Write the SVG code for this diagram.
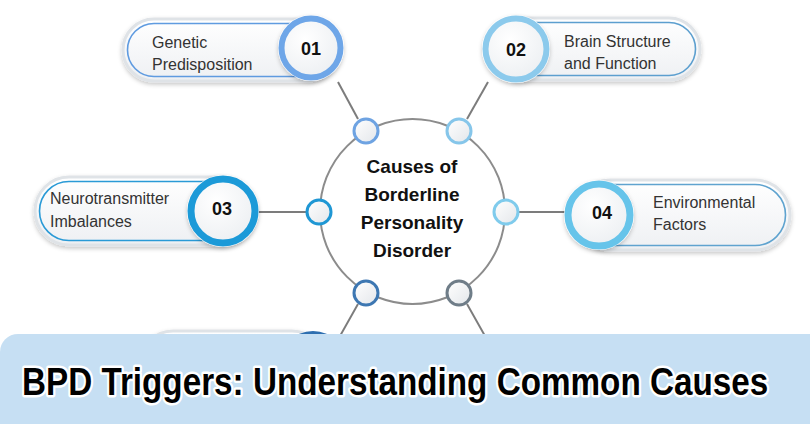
<svg xmlns="http://www.w3.org/2000/svg" width="810" height="424" viewBox="0 0 810 424">
<defs>
<linearGradient id="pillFill" x1="0" y1="0" x2="0" y2="1"><stop offset="0" stop-color="#ffffff"/><stop offset="1" stop-color="#eef0f3"/></linearGradient>
<linearGradient id="dotFill" x1="0" y1="0" x2="1" y2="1"><stop offset="0" stop-color="#ffffff"/><stop offset="1" stop-color="#e3e6ea"/></linearGradient>
<radialGradient id="numFill" cx="0.4" cy="0.35" r="0.7"><stop offset="0" stop-color="#ffffff"/><stop offset="1" stop-color="#eceff2"/></radialGradient>
<filter id="sh" x="-20%" y="-30%" width="140%" height="170%"><feDropShadow dx="0" dy="2" stdDeviation="2" flood-color="#000" flood-opacity="0.22"/></filter>
</defs>
<style>
.pill{fill:url(#pillFill);stroke:#dfe3e7;stroke-width:3;filter:url(#sh)}
.pin{fill:none;stroke-width:1.6}
.lbl{font-family:"Liberation Sans",Arial,sans-serif;font-size:16px;fill:#333}
.num{font-family:"Liberation Sans",Arial,sans-serif;font-size:18px;font-weight:bold;fill:#111;text-anchor:middle}
.conn{stroke:#7c7c7c;stroke-width:2;fill:none}
.dot{fill:url(#dotFill);stroke-width:3}
.center{font-family:"Liberation Sans",Arial,sans-serif;font-size:19px;font-weight:bold;fill:#111;text-anchor:middle}
</style>

<g id="connectors">
<line class="conn" x1="338" y1="82" x2="358" y2="119"/>
<line class="conn" x1="488" y1="82" x2="467" y2="119"/>
<line class="conn" x1="252" y1="212" x2="307" y2="212"/>
<line class="conn" x1="518" y1="212" x2="567" y2="212"/>
<line class="conn" x1="358" y1="304" x2="340" y2="336"/>
<line class="conn" x1="467" y1="304" x2="485" y2="336"/>
</g>

<g id="node05">
<rect class="pill" x="140" y="331" width="185" height="66" rx="33"/>
<circle cx="313" cy="366" r="35" fill="#2e6fb0"/>
</g>

<g id="center">
<circle cx="412.5" cy="211.5" r="92.5" fill="#ffffff" stroke="#8c8c8c" stroke-width="2"/>
<text class="center" x="412" y="173">Causes of</text>
<text class="center" x="412" y="201">Borderline</text>
<text class="center" x="412" y="229">Personality</text>
<text class="center" x="412" y="257">Disorder</text>
<circle class="dot" cx="366" cy="131" r="12" stroke="#6ea3e2"/>
<circle class="dot" cx="459" cy="131" r="12" stroke="#86c6ea"/>
<circle class="dot" cx="319" cy="212" r="12" stroke="#1f97d4"/>
<circle class="dot" cx="506" cy="212" r="12" stroke="#7fcbec"/>
<circle class="dot" cx="366" cy="293" r="12" stroke="#3d77b2"/>
<circle class="dot" cx="459" cy="293" r="12" stroke="#6f7d88"/>
</g>

<g id="node01">
<rect class="pill" x="123" y="19" width="215" height="62" rx="31"/>
<rect class="pin" x="127.5" y="23.5" width="206" height="53" rx="26.5" stroke="#5f9be0"/>
<text class="lbl" x="152" y="48">Genetic</text>
<text class="lbl" x="152" y="70">Predisposition</text>
<circle cx="311" cy="48" r="33" fill="#ffffff" filter="url(#sh)"/>
<circle cx="311" cy="48" r="29.5" fill="url(#numFill)" stroke="#6ea6e8" stroke-width="6"/>
<text class="num" x="311" y="55">01</text>
</g>

<g id="node02">
<rect class="pill" x="490" y="18" width="210" height="62" rx="31"/>
<rect class="pin" x="494.5" y="22.5" width="201" height="53" rx="26.5" stroke="#5c9fcf"/>
<text class="lbl" x="564" y="47">Brain Structure</text>
<text class="lbl" x="564" y="69">and Function</text>
<circle cx="516" cy="49" r="34" fill="#ffffff" filter="url(#sh)"/>
<circle cx="516" cy="49" r="30.5" fill="url(#numFill)" stroke="#8ccaec" stroke-width="6"/>
<text class="num" x="516" y="56">02</text>
</g>

<g id="node03">
<rect class="pill" x="35" y="177" width="220" height="68" rx="34"/>
<rect class="pin" x="39.5" y="181.5" width="211" height="59" rx="29.5" stroke="#2a9ad6"/>
<text class="lbl" x="50" y="204">Neurotransmitter</text>
<text class="lbl" x="50" y="227">Imbalances</text>
<circle cx="223" cy="211" r="36" fill="#ffffff" filter="url(#sh)"/>
<circle cx="223" cy="211" r="32" fill="url(#numFill)" stroke="#1c9ad8" stroke-width="7"/>
<text class="num" x="222" y="215">03</text>
</g>

<g id="node04">
<rect class="pill" x="575" y="180" width="215" height="70" rx="35"/>
<rect class="pin" x="579.5" y="184.5" width="206" height="61" rx="30.5" stroke="#5fa3cf"/>
<text class="lbl" x="653" y="208">Environmental</text>
<text class="lbl" x="653" y="230">Factors</text>
<circle cx="599" cy="215" r="35" fill="#ffffff" filter="url(#sh)"/>
<circle cx="599" cy="215" r="31" fill="url(#numFill)" stroke="#66c4ea" stroke-width="7"/>
<text class="num" x="602" y="219">04</text>
</g>

<g id="banner">
<rect x="0" y="334" width="840" height="110" rx="18" fill="#c6dff3"/>
<text transform="translate(22,395) scale(0.82,1)" x="0" y="0" textLength="910" lengthAdjust="spacingAndGlyphs" font-family="'Liberation Sans',Arial,sans-serif" font-size="38" font-weight="bold" fill="#000" stroke="#ffffff" stroke-width="5" stroke-linejoin="round" paint-order="stroke">BPD Triggers: Understanding Common Causes</text>
</g>
</svg>
